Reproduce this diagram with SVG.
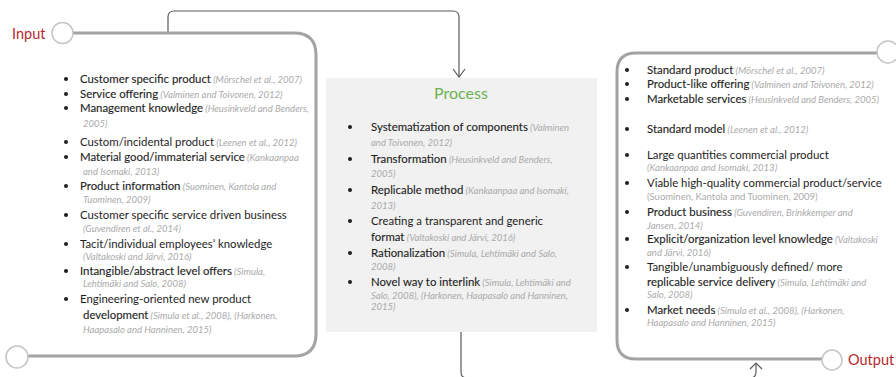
<svg xmlns="http://www.w3.org/2000/svg" width="896" height="377" viewBox="0 0 896 377">
<defs>
<style>
.t{font-family:Lato,"Liberation Sans",sans-serif;font-size:11.4px;fill:#1e1e1e}
.b{stroke:#1e1e1e;stroke-width:0.12}
.c{font-style:italic;font-size:9.5px;fill:#aaaaaa;stroke:none}
.cu{font-size:9.5px;fill:#aaaaaa;stroke:none}
.lbl{font-family:Lato,"Liberation Sans",sans-serif;font-size:14.5px;fill:#b8282d}
.ttl{font-family:Lato,"Liberation Sans",sans-serif;font-size:16px;fill:#6ab34f;text-anchor:middle}
.box{fill:none;stroke:#a3a3a3;stroke-width:3}
.ring{fill:#fff;stroke:#c4c4c4;stroke-width:1.5}
.conn{fill:none;stroke:#5a5a5a;stroke-width:1.2}
.dot{fill:#1e1e1e}
</style>
</defs>
<rect width="896" height="377" fill="#fff"/>

<g id="connectors">
<path class="conn" d="M168,33 V17 Q168,11 174,11 H453 Q459,11 459,17 V77"/>
<path class="conn" d="M453,69 L459,77 L465,69"/>
<path class="conn" d="M461,332 V372 Q461,378 467,378 H750 Q756,378 756,372 V363"/>
<path class="conn" d="M750,369 L756,363 L762,369"/>
</g>

<g id="input">
<path class="box" d="M73,33 H294 Q316,33 316,55 V334 Q316,356 294,356 H28"/>
<circle class="ring" cx="62.5" cy="33" r="10.5"/>
<circle class="ring" cx="17" cy="357" r="11"/>
<text class="lbl" x="12" y="38.5">Input</text>
<circle class="dot" cx="66" cy="79" r="2"/>
<text class="t" x="80" y="83"><tspan class="b">Customer specific product</tspan><tspan class="c"> (Mörschel et al., 2007)</tspan></text>
<circle class="dot" cx="66" cy="94" r="2"/>
<text class="t" x="80" y="98"><tspan class="b">Service offering</tspan><tspan class="c"> (Valminen and Toivonen, 2012)</tspan></text>
<circle class="dot" cx="66" cy="108" r="2"/>
<text class="t" x="80" y="112"><tspan class="b">Management knowledge</tspan><tspan class="c"> (Heusinkveld and Benders,</tspan></text>
<text class="t" x="83" y="127"><tspan class="c">2005)</tspan></text>
<circle class="dot" cx="66" cy="142" r="2"/>
<text class="t" x="80" y="146">Custom/incidental product<tspan class="c"> (Leenen et al., 2012)</tspan></text>
<circle class="dot" cx="66" cy="157" r="2"/>
<text class="t" x="80" y="161"><tspan class="b">Material good/immaterial service</tspan><tspan class="c"> (Kankaanpaa</tspan></text>
<text class="t" x="83" y="175"><tspan class="c">and Isomaki, 2013)</tspan></text>
<circle class="dot" cx="66" cy="186" r="2"/>
<text class="t" x="80" y="190"><tspan class="b">Product information</tspan><tspan class="c"> (Suominen, Kantola and</tspan></text>
<text class="t" x="83" y="203"><tspan class="c">Tuominen, 2009)</tspan></text>
<circle class="dot" cx="66" cy="215" r="2"/>
<text class="t" x="80" y="219">Customer specific service driven business</text>
<text class="t" x="83" y="232"><tspan class="c">(Guvendiren et al., 2014)</tspan></text>
<circle class="dot" cx="66" cy="244" r="2"/>
<text class="t" x="80" y="248">Tacit/individual employees’ knowledge</text>
<text class="t" x="83" y="260"><tspan class="c">(Valtakoski and Järvi, 2016)</tspan></text>
<circle class="dot" cx="66" cy="271" r="2"/>
<text class="t" x="80" y="275"><tspan class="b">Intangible/abstract level offers</tspan><tspan class="c"> (Simula,</tspan></text>
<text class="t" x="83" y="287"><tspan class="c">Lehtimäki and Salo, 2008)</tspan></text>
<circle class="dot" cx="66" cy="299" r="2"/>
<text class="t" x="80" y="303">Engineering-oriented new product</text>
<text class="t" x="83" y="319"><tspan class="b">development</tspan><tspan class="c"> (Simula et al., 2008), (Harkonen,</tspan></text>
<text class="t" x="83" y="333"><tspan class="c">Haapasalo and Hanninen, 2015)</tspan></text>
</g>

<g id="process">
<rect x="326" y="78" width="271" height="254" fill="#f1f1f1"/>
<text class="ttl" x="461" y="99">Process</text>
<circle class="dot" cx="350" cy="127" r="2"/>
<text class="t" x="371" y="131"><tspan class="b">Systematization of components</tspan><tspan class="c"> (Valminen</tspan></text>
<text class="t" x="371" y="146"><tspan class="c">and Toivonen, 2012)</tspan></text>
<circle class="dot" cx="350" cy="159" r="2"/>
<text class="t" x="371" y="163"><tspan class="b">Transformation</tspan><tspan class="c"> (Heusinkveld and Benders,</tspan></text>
<text class="t" x="371" y="177"><tspan class="c">2005)</tspan></text>
<circle class="dot" cx="350" cy="190" r="2"/>
<text class="t" x="371" y="194"><tspan class="b">Replicable method</tspan><tspan class="c"> (Kankaanpaa and Isomaki,</tspan></text>
<text class="t" x="371" y="209"><tspan class="c">2013)</tspan></text>
<circle class="dot" cx="350" cy="221" r="2"/>
<text class="t" x="371" y="225">Creating a transparent and generic</text>
<text class="t" x="371" y="241"><tspan class="b">format</tspan><tspan class="c"> (Valtakoski and Järvi, 2016)</tspan></text>
<circle class="dot" cx="350" cy="253" r="2"/>
<text class="t" x="371" y="257"><tspan class="b">Rationalization</tspan><tspan class="c"> (Simula, Lehtimäki and Salo,</tspan></text>
<text class="t" x="371" y="270"><tspan class="c">2008)</tspan></text>
<circle class="dot" cx="350" cy="282" r="2"/>
<text class="t" x="371" y="286"><tspan class="b">Novel way to interlink</tspan><tspan class="c"> (Simula, Lehtimäki and</tspan></text>
<text class="t" x="371" y="299"><tspan class="c">Salo, 2008), (Harkonen, Haapasalo and Hanninen,</tspan></text>
<text class="t" x="371" y="310"><tspan class="c">2015)</tspan></text>
</g>

<g id="output">
<path class="box" d="M877,53 H636 Q617,53 617,72 V340 Q617,359 636,359 H822"/>
<circle class="ring" cx="888" cy="52" r="11"/>
<circle class="ring" cx="832" cy="360" r="10"/>
<text class="lbl" x="848" y="365">Output</text>
<circle class="dot" cx="627" cy="70" r="2"/>
<text class="t" x="647" y="74"><tspan class="b">Standard product</tspan><tspan class="c"> (Mörschel et al., 2007)</tspan></text>
<circle class="dot" cx="627" cy="84" r="2"/>
<text class="t" x="647" y="88"><tspan class="b">Product-like offering</tspan><tspan class="c"> (Valminen and Toivonen, 2012)</tspan></text>
<circle class="dot" cx="627" cy="99" r="2"/>
<text class="t" x="647" y="103"><tspan class="b">Marketable services</tspan><tspan class="c"> (Heusinkveld and Benders, 2005)</tspan></text>
<circle class="dot" cx="627" cy="129" r="2"/>
<text class="t" x="647" y="133"><tspan class="b">Standard model</tspan><tspan class="c"> (Leenen et al., 2012)</tspan></text>
<circle class="dot" cx="627" cy="155" r="2"/>
<text class="t" x="647" y="159">Large quantities commercial product</text>
<text class="t" x="647" y="171"><tspan class="c">(Kankaanpaa and Isomaki, 2013)</tspan></text>
<circle class="dot" cx="627" cy="183" r="2"/>
<text class="t" x="647" y="187">Viable high-quality commercial product/service</text>
<text class="t" x="647" y="200"><tspan class="cu">(Suominen, Kantola and Tuominen, 2009)</tspan></text>
<circle class="dot" cx="627" cy="212" r="2"/>
<text class="t" x="647" y="216"><tspan class="b">Product business</tspan><tspan class="c"> (Guvendiren, Brinkkemper and</tspan></text>
<text class="t" x="647" y="229"><tspan class="c">Jansen, 2014)</tspan></text>
<circle class="dot" cx="627" cy="239" r="2"/>
<text class="t" x="647" y="243"><tspan class="b">Explicit/organization level knowledge</tspan><tspan class="c"> (Valtakoski</tspan></text>
<text class="t" x="647" y="256"><tspan class="c">and Järvi, 2016)</tspan></text>
<circle class="dot" cx="627" cy="267" r="2"/>
<text class="t" x="647" y="271">Tangible/unambiguously defined/ more</text>
<text class="t" x="647" y="286"><tspan class="b">replicable service delivery</tspan><tspan class="c"> (Simula, Lehtimäki and</tspan></text>
<text class="t" x="647" y="298"><tspan class="c">Salo, 2008)</tspan></text>
<circle class="dot" cx="627" cy="310" r="2"/>
<text class="t" x="647" y="314"><tspan class="b">Market needs</tspan><tspan class="c"> (Simula et al., 2008), (Harkonen,</tspan></text>
<text class="t" x="647" y="326"><tspan class="c">Haapasalo and Hanninen, 2015)</tspan></text>
</g>
</svg>
